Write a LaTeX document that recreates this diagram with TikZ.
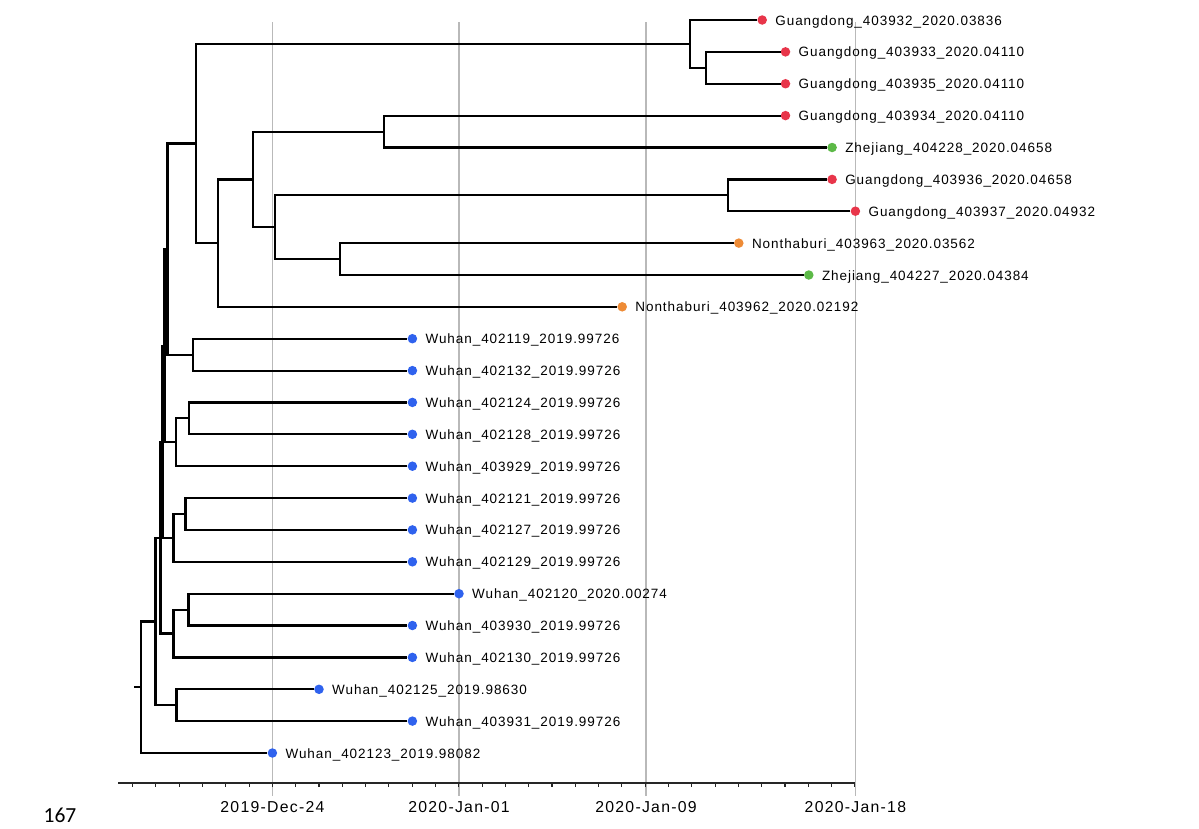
\documentclass[tikz,border=0pt]{standalone}
\usepackage{fontspec}
\setmainfont{Liberation Sans}
\newfontfamily\labfont[LetterSpace=7]{Liberation Sans}
\newfontfamily\datefont[LetterSpace=8]{Liberation Sans}
\newfontfamily\pagefont{Carlito}
\definecolor{gdred}{RGB}{232,53,74}
\definecolor{ntorange}{RGB}{238,139,54}
\definecolor{zjgreen}{RGB}{92,185,71}
\definecolor{whblue}{RGB}{47,98,238}
\definecolor{gridgray}{RGB}{185,185,185}
\begin{document}
\begin{tikzpicture}[x=1pt,y=-1pt,
  br/.style={line width=2.2pt,black,line join=miter},
  gridl/.style={draw=gridgray,line width=1.3pt},
  axisl/.style={draw=black!85,line width=1.1pt},
  tipdot/.style={circle,inner sep=0pt,minimum size=9.5pt,draw=none},
  gd/.style={tipdot,fill=gdred},
  nt/.style={tipdot,fill=ntorange},
  zj/.style={tipdot,fill=zjgreen},
  wh/.style={tipdot,fill=whblue},
  lab/.style={anchor=base west,inner sep=0pt,font=\labfont\fontsize{13.5}{16}\selectfont},
  datelab/.style={anchor=base,inner sep=0pt,font=\datefont\fontsize{15.8}{18}\selectfont},
]
\useasboundingbox (0,0) rectangle (1199,828);
\fill[white] (0,0) rectangle (1199,828);

% grid lines and axis
\foreach \gx in {272.4,459,646,855.4}{
  \draw[gridl] (\gx,22) -- (\gx,796);
}
\draw[axisl] (118,783) -- (855.4,783);
\foreach \k in {-6,...,25}{
  \draw[axisl] (272.4+\k*23.3,783) -- ++(0,4);
}
\node[datelab] (d1) at (272.4,812) {2019-Dec-24};
\node[datelab] (d2) at (459,812) {2020-Jan-01};
\node[datelab] (d3) at (646,812) {2020-Jan-09};
\node[datelab] (d4) at (855.4,812) {2020-Jan-18};
\node[anchor=base,inner sep=0pt,font=\pagefont\fontsize{21.5}{24}\selectfont] (pg) at (60,822.5) {167};

% tips
\node[gd] (t1) at (762.2,20) {};
\node[gd] (t2) at (785.5,51.87) {};
\node[gd] (t3) at (785.5,83.74) {};
\node[gd] (t4) at (785.5,115.6) {};
\node[zj] (t5) at (832.1,147.5) {};
\node[gd] (t6) at (832.1,179.4) {};
\node[gd] (t7) at (855.4,211.2) {};
\node[nt] (t8) at (738.8,243.1) {};
\node[zj] (t9) at (808.8,275) {};
\node[nt] (t10) at (622.2,306.8) {};
\node[wh] (t11) at (412.4,338.7) {};
\node[wh] (t12) at (412.4,370.6) {};
\node[wh] (t13) at (412.4,402.4) {};
\node[wh] (t14) at (412.4,434.3) {};
\node[wh] (t15) at (412.4,466.2) {};
\node[wh] (t16) at (412.4,498.1) {};
\node[wh] (t17) at (412.4,529.9) {};
\node[wh] (t18) at (412.4,561.8) {};
\node[wh] (t19) at (459,593.7) {};
\node[wh] (t20) at (412.4,625.5) {};
\node[wh] (t21) at (412.4,657.4) {};
\node[wh] (t22) at (319,689.3) {};
\node[wh] (t23) at (412.4,721.1) {};
\node[wh] (t24) at (272.4,753) {};

% labels
\node[lab] (l1) at ([shift={(13pt,-5pt)}]t1.center) {Guangdong\_403932\_2020.03836};
\node[lab] (l2) at ([shift={(13pt,-5pt)}]t2.center) {Guangdong\_403933\_2020.04110};
\node[lab] (l3) at ([shift={(13pt,-5pt)}]t3.center) {Guangdong\_403935\_2020.04110};
\node[lab] (l4) at ([shift={(13pt,-5pt)}]t4.center) {Guangdong\_403934\_2020.04110};
\node[lab] (l5) at ([shift={(13pt,-5pt)}]t5.center) {Zhejiang\_404228\_2020.04658};
\node[lab] (l6) at ([shift={(13pt,-5pt)}]t6.center) {Guangdong\_403936\_2020.04658};
\node[lab] (l7) at ([shift={(13pt,-5pt)}]t7.center) {Guangdong\_403937\_2020.04932};
\node[lab] (l8) at ([shift={(13pt,-5pt)}]t8.center) {Nonthaburi\_403963\_2020.03562};
\node[lab] (l9) at ([shift={(13pt,-5pt)}]t9.center) {Zhejiang\_404227\_2020.04384};
\node[lab] (l10) at ([shift={(13pt,-5pt)}]t10.center) {Nonthaburi\_403962\_2020.02192};
\node[lab] (l11) at ([shift={(13pt,-5pt)}]t11.center) {Wuhan\_402119\_2019.99726};
\node[lab] (l12) at ([shift={(13pt,-5pt)}]t12.center) {Wuhan\_402132\_2019.99726};
\node[lab] (l13) at ([shift={(13pt,-5pt)}]t13.center) {Wuhan\_402124\_2019.99726};
\node[lab] (l14) at ([shift={(13pt,-5pt)}]t14.center) {Wuhan\_402128\_2019.99726};
\node[lab] (l15) at ([shift={(13pt,-5pt)}]t15.center) {Wuhan\_403929\_2019.99726};
\node[lab] (l16) at ([shift={(13pt,-5pt)}]t16.center) {Wuhan\_402121\_2019.99726};
\node[lab] (l17) at ([shift={(13pt,-5pt)}]t17.center) {Wuhan\_402127\_2019.99726};
\node[lab] (l18) at ([shift={(13pt,-5pt)}]t18.center) {Wuhan\_402129\_2019.99726};
\node[lab] (l19) at ([shift={(13pt,-5pt)}]t19.center) {Wuhan\_402120\_2020.00274};
\node[lab] (l20) at ([shift={(13pt,-5pt)}]t20.center) {Wuhan\_403930\_2019.99726};
\node[lab] (l21) at ([shift={(13pt,-5pt)}]t21.center) {Wuhan\_402130\_2019.99726};
\node[lab] (l22) at ([shift={(13pt,-5pt)}]t22.center) {Wuhan\_402125\_2019.98630};
\node[lab] (l23) at ([shift={(13pt,-5pt)}]t23.center) {Wuhan\_403931\_2019.99726};
\node[lab] (l24) at ([shift={(13pt,-5pt)}]t24.center) {Wuhan\_402123\_2019.98082};

% internal nodes
\coordinate (g1) at (706,67.8);
\coordinate (g0) at (690,43.9);
\coordinate (z1) at (384,131.6);
\coordinate (g2) at (728,195.3);
\coordinate (n1) at (340,259.05);
\coordinate (a4) at (275,227.2);
\coordinate (a3) at (253,179.4);
\coordinate (a2) at (218,243.1);
\coordinate (a1) at (196,143.5);
\coordinate (w1) at (193,354.65);
\coordinate (a0) at (167.5,249.1);
\coordinate (s2i) at (189,418.35);
\coordinate (s2) at (176,442.3);
\coordinate (W) at (164.5,345.7);
\coordinate (s3i) at (185.5,514);
\coordinate (s3) at (173.5,537.9);
\coordinate (Z) at (162.5,441.8);
\coordinate (s4i) at (188.5,609.6);
\coordinate (s4) at (173.5,633.5);
\coordinate (Y) at (160.5,537.65);
\coordinate (s5) at (176.5,705.2);
\coordinate (C) at (155.5,621.4);
\coordinate (root) at (141,687.2);
\coordinate (rs) at (134,687.2);

% branches
\draw[br] (rs) -- (root);
\draw[br] (root) |- (C);
\draw[br] (root) |- (t24);
\draw[br] (C) |- (Y);
\draw[br] (C) |- (s5);
\draw[br] (s5) |- (t22);
\draw[br] (s5) |- (t23);
\draw[br] (Y) |- (Z);
\draw[br] (Y) |- (s4);
\draw[br] (s4) |- (s4i);
\draw[br] (s4) |- (t21);
\draw[br] (s4i) |- (t19);
\draw[br] (s4i) |- (t20);
\draw[br] (Z) |- (W);
\draw[br] (Z) |- (s3);
\draw[br] (s3) |- (s3i);
\draw[br] (s3) |- (t18);
\draw[br] (s3i) |- (t16);
\draw[br] (s3i) |- (t17);
\draw[br] (W) |- (a0);
\draw[br] (W) |- (s2);
\draw[br] (s2) |- (s2i);
\draw[br] (s2) |- (t15);
\draw[br] (s2i) |- (t13);
\draw[br] (s2i) |- (t14);
\draw[br] (a0) |- (a1);
\draw[br] (a0) |- (w1);
\draw[br] (w1) |- (t11);
\draw[br] (w1) |- (t12);
\draw[br] (a1) |- (g0);
\draw[br] (a1) |- (a2);
\draw[br] (g0) |- (t1);
\draw[br] (g0) |- (g1);
\draw[br] (g1) |- (t2);
\draw[br] (g1) |- (t3);
\draw[br] (a2) |- (a3);
\draw[br] (a2) |- (t10);
\draw[br] (a3) |- (z1);
\draw[br] (a3) |- (a4);
\draw[br] (z1) |- (t4);
\draw[br] (z1) |- (t5);
\draw[br] (a4) |- (g2);
\draw[br] (a4) |- (n1);
\draw[br] (g2) |- (t6);
\draw[br] (g2) |- (t7);
\draw[br] (n1) |- (t8);
\draw[br] (n1) |- (t9);
\end{tikzpicture}
\end{document}
